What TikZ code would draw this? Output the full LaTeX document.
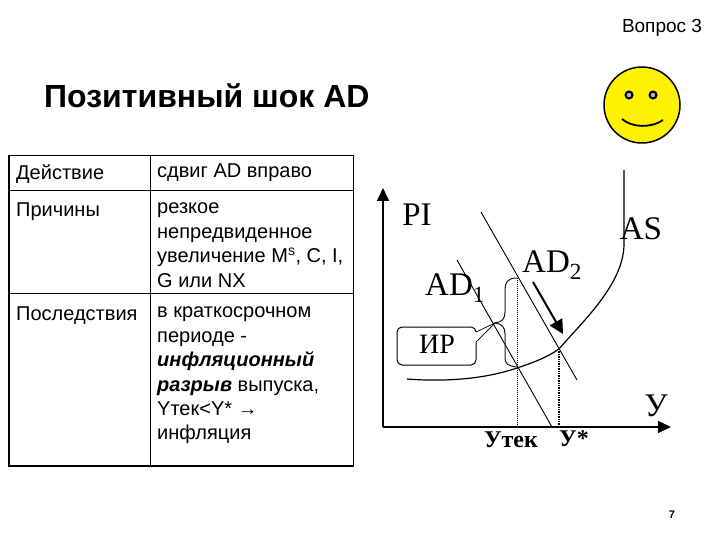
\documentclass[tikz,border=0pt]{standalone}
\usepackage{fontspec}
\setmainfont{Liberation Sans}
\newfontfamily\serifgraph{Liberation Serif}
\usetikzlibrary{arrows.meta}
\tikzset{
    celltext/.style={anchor=north west,align=left,inner sep=0pt,font=\fontsize{20}{24.4}\selectfont},
    graphtext/.style={inner sep=0pt,font=\serifgraph\fontsize{33}{33}\selectfont},
    axistext/.style={inner sep=0pt,font=\serifgraph\bfseries\fontsize{24}{24}\selectfont},
    axisline/.style={line width=1.5pt,-{Triangle[length=13pt,width=12pt]}},
}
\begin{document}
\begin{tikzpicture}[x=1pt,y=-1pt]
    \useasboundingbox (0,0) rectangle (720,540);
    % header
    \node[inner sep=0pt,font=\fontsize{19}{19}\selectfont] (question) at (662,28) {Вопрос 3};
    \node[inner sep=0pt,anchor=west,font=\bfseries\fontsize{32}{32}\selectfont] (title) at (44,96) {Позитивный шок AD};
    \node[inner sep=0pt,font=\bfseries\fontsize{11}{11}\selectfont] (pagenum) at (672,515) {7};
    % smiley
    \draw[line width=1.5pt,fill=yellow] (642,105) circle (38);
    \draw[line width=2pt,fill=gray!60] (629,95) circle (3.5);
    \draw[line width=2pt,fill=gray!60] (653,95) circle (3.5);
    \draw[line width=1.8pt] (622,119) .. controls (632,128) and (652,128) .. (663,120);
    % table
    \draw[line width=1.5pt] (9,155.5) rectangle (353.5,466);
    \draw[line width=0.7pt] (150,155.5)--(150,466);
    \draw[line width=0.7pt] (9,190)--(353.5,190);
    \draw[line width=0.7pt] (9,293)--(353.5,293);
    \node[celltext] (action) at (16,164) {Действие};
    \node[celltext] (actiontext) at (157,164) {сдвиг AD вправо};
    \node[celltext] (reason) at (16,203) {Причины};
    \node[celltext] (reasontext) at (157,203) {резкое\\непредвиденное\\увеличение M\textsuperscript{s}, C, I,\\G или NX};
    \node[celltext] (result) at (16,307) {Последствия};
    \node[celltext] (resulttext) at (157,307) {в краткосрочном\\периоде -\\\textbf{\textit{инфляционный}}\\\textbf{\textit{разрыв}} выпуска,\\Yтек<Y* →\\инфляция};
    % axes
    \coordinate (origin) at (383,427);
    \coordinate (ytip) at (383,188);
    \coordinate (xtip) at (671,427);
    \draw[axisline] (origin)--(ytip);
    \draw[axisline] (origin)--(xtip);
    % curves
    \coordinate (tek) at (517,368);
    \coordinate (star) at (559,349);
    \draw[line width=1.2pt] (407,379) .. controls (445,382) and (485,379) .. (tek)
        .. controls (532,363) and (546,358) .. (star)
        .. controls (582,322) and (623,285) .. (624,245)--(624,170);
    \draw[line width=0.9pt] (457,260)--(552,427);
    \draw[line width=0.9pt] (481,212)--(577,380);
    \draw[line width=1pt,densely dotted] (517,278)--(517,427);
    \draw[line width=1.4pt,densely dotted] (559,349)--(559,427);
    \draw[line width=2pt,-{Triangle[length=14pt,width=14pt]}] (533,282)--(563,334);
    % brace
    \draw[line width=1pt,gray!20!black] (517,278) .. controls (507,278) and (505,283) .. (505,290)
        --(505,312) .. controls (505,319) and (502,322) .. (495,323)
        .. controls (502,324) and (505,327) .. (505,334)
        --(505,357) .. controls (505,364) and (508,366) .. (517,367);
    % callout
    \draw[line width=1pt,rounded corners=5pt] (476,332)--(476,327)--(397,327)--(397,365)--(476,365)--(476,342);
    \draw[line width=0.7pt] (476,332)--(495,323)--(476,342);
    % labels
    \node[graphtext] (pilabel) at (417,215) {PI};
    \node[graphtext] (aslabel) at (641,229) {AS};
    \node[graphtext,anchor=west] (adtwo) at (522,265) {AD\textsubscript{2}};
    \node[graphtext,anchor=west] (adone) at (425,288) {AD\textsubscript{1}};
    \node[inner sep=0pt,font=\serifgraph\fontsize{28}{28}\selectfont] (gap) at (437,344) {ИР};
    \node[graphtext] (ylabel) at (656,406) {У};
    \node[axistext] (ytek) at (511,440) {Утек};
    \node[axistext] (ystar) at (574,439) {У*};
\end{tikzpicture}
\end{document}
